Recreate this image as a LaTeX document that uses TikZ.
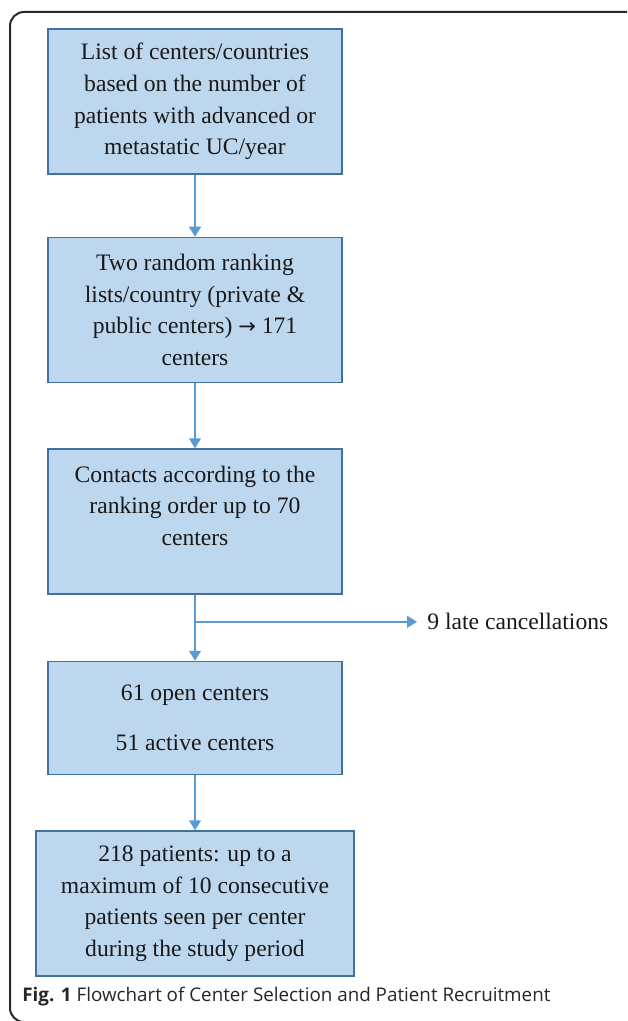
\documentclass[tikz,border=0pt]{standalone}
\usepackage{fontspec}
\setmainfont{Liberation Serif}
\newfontfamily\capfont{Open Sans}
\newfontfamily\symfont{DejaVu Sans}
\usepackage{tikz}
\usetikzlibrary{arrows.meta,positioning,calc}
\definecolor{boxfill}{RGB}{189,215,238}
\definecolor{boxline}{RGB}{65,113,156}
\definecolor{flowline}{RGB}{91,155,213}
\definecolor{framegray}{RGB}{40,40,40}

\begin{document}
\begin{tikzpicture}[
    node distance=31pt,
    box/.style={draw=boxline, fill=boxfill, line width=0.75pt, minimum width=147pt, minimum height=72.5pt, align=center, font=\fontsize{11.8}{15.8}\selectfont, text=black!90},
    arrow/.style={-{Triangle[width=6pt,length=5pt]}, line width=0.75pt, draw=flowline, fill=flowline},
    label/.style={font=\fontsize{11.8}{15.8}\selectfont, text=black!90, inner sep=5pt}
]
    % Page frame
    \useasboundingbox (0,0) rectangle (313.5pt,-510.5pt);
    \begin{scope}
        \clip (0,0) rectangle (313.5pt,-510.5pt);
        \draw[framegray, line width=1pt, rounded corners=7pt] (5pt,-511pt) rectangle (340pt,-6pt);
    \end{scope}

    % Selection of centers
    \node[box] (list) at (97.5pt,-50.75pt) {List of centers/countries\\based on the number of\\patients with advanced or\\metastatic UC/year};
    \node[box, below=of list] (ranking) {Two random ranking\\lists/country (private \&\\public centers) {\symfont\fontsize{10.5}{15.8}\selectfont →} 171\\centers};
    \node[box, below=32.5pt of ranking] (contacts) {Contacts according to the\\ranking order up to 70\\centers\\ \mbox{}};
    \node[box, minimum height=56.5pt, below=33pt of contacts] (open) {61 open centers\\[9.2pt]51 active centers};

    % Recruitment of patients
    \node[box, minimum width=159pt, below=27.5pt of open] (patients) {218 patients: up to a\\maximum of 10 consecutive\\patients seen per center\\during the study period};

    % Dropouts
    \coordinate (split) at ($(contacts.south)!0.41!(open.north)$);
    \node[label, right=111pt of split] (late) {9 late cancellations};

    % Connections
    \draw[arrow] (list) -- (ranking);
    \draw[arrow] (ranking) -- (contacts);
    \draw[arrow] (contacts) -- (open);
    \draw[arrow] (split) -- (late);
    \draw[arrow] (open) -- (patients);

    % Caption
    \node[anchor=west, inner sep=0pt, font=\capfont\fontsize{9.4}{11}\selectfont, text=black!85] (caption) at (11pt,-498.5pt) {\textbf{Fig. 1} Flowchart of Center Selection and Patient Recruitment};
\end{tikzpicture}
\end{document}
